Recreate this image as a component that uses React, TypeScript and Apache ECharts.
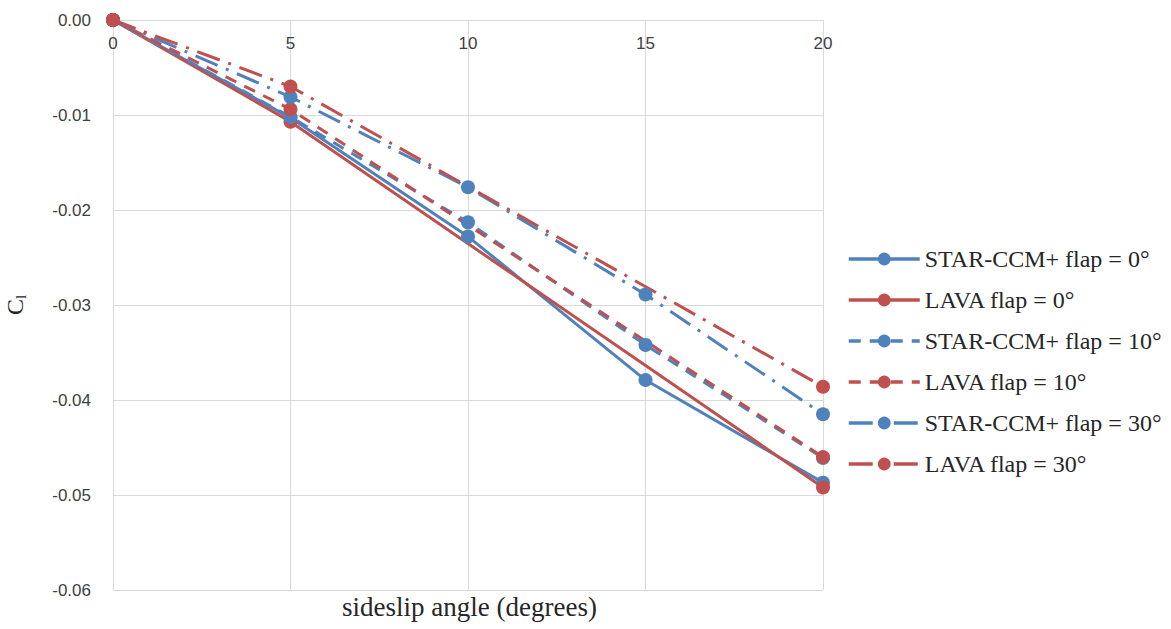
import React, { useEffect, useRef } from "react";
import * as echarts from "echarts";

const starAngles = [0, 5, 10, 15, 20];
const lavaAngles = [0, 5, 20];
const yTicks = [0, -0.01, -0.02, -0.03, -0.04, -0.05, -0.06];
const starFlap0 = [0, -0.0103, -0.0228, -0.0379, -0.0487];
const lavaFlap0 = [0, -0.0107, -0.0492];
const starFlap10 = [0, -0.0102, -0.0213, -0.0342, -0.0461];
const lavaFlap10 = [0, -0.0094, -0.0460];
const starFlap30 = [0, -0.0081, -0.0176, -0.0289, -0.0415];
const lavaFlap30 = [0, -0.0070, -0.0386];

const BLUE = "#4F81BD";
const RED = "#C0504D";

export default function App() {
  const ref = useRef<HTMLDivElement>(null);
  useEffect(() => {
    if (!ref.current) return;
    const chart = echarts.init(ref.current, null, { renderer: "svg" });
    const mk = (name: string, xs: number[], data: number[], color: string, type: any) => ({
      name,
      type: "line",
      data: xs.map((a, i) => [a, data[i]]),
      symbol: "circle",
      symbolSize: 14,
      lineStyle: { color, width: 3, type },
      itemStyle: { color },
      z: 2,
    });
    const dash = [12, 9];
    const dashDot = [24, 9, 3, 9];
    chart.setOption({
      animation: false,
      grid: { left: 113, right: 348, top: 20, bottom: 39, outerBoundsMode: "none", containLabel: false },
      xAxis: {
        type: "value",
        position: "top",
        min: 0,
        max: 20,
        interval: 5,
        axisLine: { show: true, onZero: false, lineStyle: { color: "#d9d9d9", width: 1 } },
        axisTick: { show: false },
        splitLine: { show: true, lineStyle: { color: "#d9d9d9", width: 1 } },
        axisLabel: {
          inside: true,
          margin: 15,
          color: "#404040",
          fontSize: 17,
          fontFamily: "Liberation Sans, Arial, sans-serif",
          showMinLabel: true,
          showMaxLabel: true,
        },
      },
      yAxis: {
        type: "value",
        min: yTicks[yTicks.length - 1],
        max: yTicks[0],
        interval: 0.01,
        axisLine: { show: true, onZero: false, lineStyle: { color: "#d9d9d9", width: 1 } },
        axisTick: { show: false },
        splitLine: { show: true, lineStyle: { color: "#d9d9d9", width: 1 } },
        axisLabel: {
          margin: 22,
          color: "#404040",
          fontSize: 17,
          fontFamily: "Liberation Sans, Arial, sans-serif",
          formatter: (v: number) => (Math.abs(v) < 1e-9 ? "0.00" : v.toFixed(2)),
        },
        name: "{c|C}{s|l}",
        nameLocation: "middle",
        nameGap: 85,
        nameRotate: 90,
        nameTextStyle: {
          rich: {
            c: { fontFamily: "Liberation Serif, serif", fontSize: 24, color: "#262626" },
            s: { fontFamily: "Liberation Serif, serif", fontSize: 15, color: "#262626", verticalAlign: "bottom", padding: [12, 0, 0, 0] },
          },
        },
      },
      legend: {
        orient: "vertical",
        left: 842,
        top: 242,
        itemWidth: 71,
        itemHeight: 16,
        itemGap: 17,
        lineStyle: { width: 3.5 },
        textStyle: { fontFamily: "Liberation Serif, serif", fontSize: 24, color: "#262626" },
        data: [
          "STAR-CCM+ flap = 0°",
          "LAVA flap = 0°",
          "STAR-CCM+ flap = 10°",
          "LAVA flap = 10°",
          "STAR-CCM+ flap = 30°",
          "LAVA flap = 30°",
        ],
      },
      graphic: [
        {
          type: "text",
          left: 342,
          top: 593,
          style: {
            text: "sideslip angle (degrees)",
            fontFamily: "Liberation Serif, serif",
            fontSize: 27,
            fill: "#262626",
          },
        },
      ],
      series: [
        mk("STAR-CCM+ flap = 0°", starAngles, starFlap0, BLUE, "solid"),
        mk("LAVA flap = 0°", lavaAngles, lavaFlap0, RED, "solid"),
        mk("STAR-CCM+ flap = 10°", starAngles, starFlap10, BLUE, dash),
        mk("LAVA flap = 10°", lavaAngles, lavaFlap10, RED, dash),
        mk("STAR-CCM+ flap = 30°", starAngles, starFlap30, BLUE, dashDot),
        mk("LAVA flap = 30°", lavaAngles, lavaFlap30, RED, dashDot),
      ],
    });
    return () => chart.dispose();
  }, []);
  return <div ref={ref} style={{ width: 1171, height: 629, position: "absolute", left: 0, top: 0 }} />;
}
